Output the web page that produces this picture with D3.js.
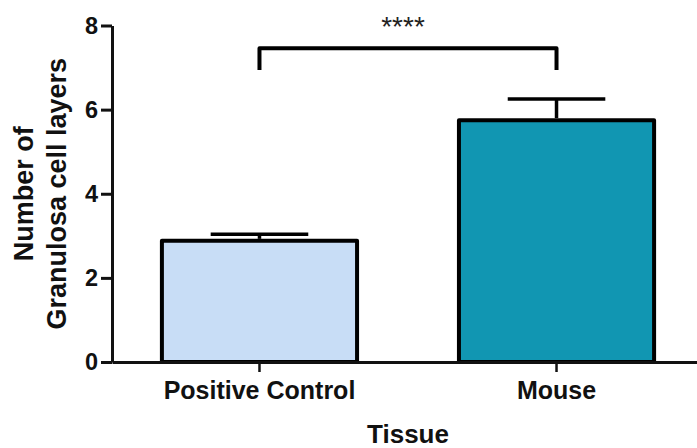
<!DOCTYPE html>
<html>
<head>
<meta charset="utf-8">
<script src="https://cdn.jsdelivr.net/npm/d3@7"></script>
<style>
  body { margin: 0; background: #fff; }
  svg { display: block; }
</style>
</head>
<body>
<div id="grafico"></div>
<script>
// datos
const categorias = ['Positive Control', 'Mouse'];
const medias = [2.88, 5.75];
const errores = [0.16, 0.50];
const colores = ['#c8ddf6', '#1196b2'];
const ticksY = [0, 2, 4, 6, 8];
const signif = { desde: 'Positive Control', hasta: 'Mouse', y: 7.46, bajada: 6.94, texto: '****' };

const width = 697, height = 448;
const font = '"Liberation Sans", Arial, Helvetica, sans-serif';

const svg = d3.select('#grafico')
  .append('svg')
  .attr('width', width)
  .attr('height', height);

const x = d3.scaleBand()
  .domain(categorias)
  .range([112, 704])
  .paddingInner(0.343)
  .paddingOuter(0.168);

const y = d3.scaleLinear()
  .domain([0, 8])
  .range([362, 25.5]);

const datos = categorias.map((c, i) => ({ cat: c, media: medias[i], err: errores[i], color: colores[i] }));

// barras
svg.selectAll('.bar')
  .data(datos)
  .enter().append('rect')
  .attr('class', 'bar')
  .attr('x', d => x(d.cat))
  .attr('y', d => y(d.media))
  .attr('width', x.bandwidth())
  .attr('height', d => y(0) - y(d.media))
  .attr('fill', d => d.color)
  .attr('stroke', '#000')
  .attr('stroke-width', 4)
  .attr('stroke-linejoin', 'round');

// barras de error (solo hacia arriba)
const err = svg.selectAll('.err')
  .data(datos)
  .enter().append('g')
  .attr('class', 'err')
  .attr('stroke', '#000')
  .attr('stroke-width', 3.5);

err.append('line')
  .attr('x1', d => x(d.cat) + x.bandwidth() / 2)
  .attr('x2', d => x(d.cat) + x.bandwidth() / 2)
  .attr('y1', d => y(d.media) - 2)
  .attr('y2', d => y(d.media + d.err));

err.append('line')
  .attr('x1', d => x(d.cat) + x.bandwidth() / 4)
  .attr('x2', d => x(d.cat) + x.bandwidth() * 3 / 4)
  .attr('y1', d => y(d.media + d.err))
  .attr('y2', d => y(d.media + d.err));

// ejes
const ejeX = svg.append('g')
  .attr('transform', `translate(0,${y(0)})`)
  .call(d3.axisBottom(x).tickSize(10).tickSizeOuter(0).tickPadding(9));

ejeX.select('.domain').attr('stroke-width', 3).attr('stroke', '#111');
ejeX.selectAll('.tick line').attr('stroke-width', 2.5).attr('stroke', '#111');
ejeX.selectAll('text')
  .style('font-family', font)
  .style('font-size', '25px')
  .style('font-weight', 'bold')
  .attr('fill', '#111');

const ejeY = svg.append('g')
  .attr('transform', `translate(${x.range()[0]},0)`)
  .call(d3.axisLeft(y).tickValues(ticksY).tickSize(11).tickSizeOuter(0).tickPadding(3));

ejeY.select('.domain').attr('stroke-width', 3).attr('stroke', '#111');
ejeY.selectAll('.tick line').attr('stroke-width', 3).attr('stroke', '#111');
ejeY.selectAll('text')
  .style('font-family', font)
  .style('font-size', '23.5px')
  .style('font-weight', 'bold')
  .attr('fill', '#111');

// títulos
svg.append('text')
  .attr('x', (x.range()[0] + x.range()[1]) / 2)
  .attr('y', 443)
  .attr('text-anchor', 'middle')
  .style('font-family', font)
  .style('font-size', '26px')
  .style('font-weight', 'bold')
  .attr('fill', '#111')
  .text('Tissue');

const tituloY = svg.append('text')
  .attr('transform', `translate(0,${(y(0) + y(8)) / 2}) rotate(-90)`)
  .attr('text-anchor', 'middle')
  .style('font-family', font)
  .style('font-size', '27px')
  .style('font-weight', 'bold')
  .attr('fill', '#111');

tituloY.append('tspan').attr('x', 0).attr('y', 33).text('Number of');
tituloY.append('tspan').attr('x', 0).attr('y', 66).text('Granulosa cell layers');

// corchete de significancia
const x1 = x(signif.desde) + x.bandwidth() / 2;
const x2 = x(signif.hasta) + x.bandwidth() / 2;

svg.append('path')
  .attr('d', d3.line()([[x1, y(signif.bajada)], [x1, y(signif.y)], [x2, y(signif.y)], [x2, y(signif.bajada)]]))
  .attr('fill', 'none')
  .attr('stroke', '#000')
  .attr('stroke-width', 4)
  .attr('stroke-linejoin', 'round');

svg.append('text')
  .attr('x', (x1 + x2) / 2 - 5)
  .attr('y', 36)
  .attr('text-anchor', 'middle')
  .style('font-family', font)
  .style('font-size', '28px')
  .attr('fill', '#222')
  .text(signif.texto);
</script>
</body>
</html>
